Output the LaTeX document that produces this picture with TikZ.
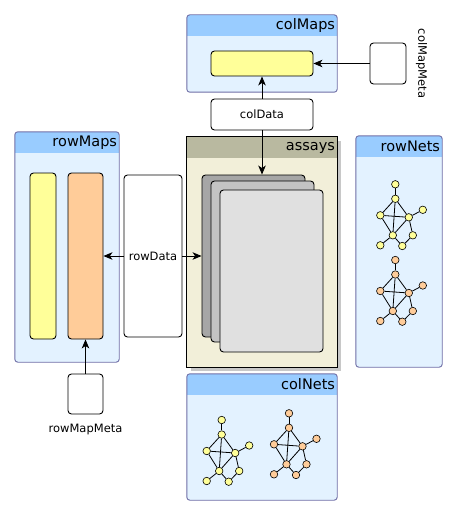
\documentclass[tikz,border=0pt]{standalone}
\usepackage{fontspec}
\setmainfont{DejaVu Sans}
\usepackage{tikz}
\usetikzlibrary{positioning,arrows.meta,fit}

\definecolor{headblue}{HTML}{99CCFF}
\definecolor{bodyblue}{HTML}{E3F2FF}
\definecolor{panelrim}{HTML}{6D6DA6}
\definecolor{headolive}{HTML}{B9B9A0}
\definecolor{bodyolive}{HTML}{F2EFD9}
\definecolor{mapyellow}{HTML}{FFFF99}
\definecolor{maporange}{HTML}{FFCC99}
\definecolor{sheetdark}{HTML}{A6A6A6}
\definecolor{sheetmid}{HTML}{C3C3C3}
\definecolor{sheetlight}{HTML}{E0E0E0}
\definecolor{shadowgray}{HTML}{C8C8C8}

% панель: имя, левый верхний угол, правый нижний угол, заголовок, цвет шапки, цвет фона
\newcommand{\panel}[7][]{%
	\begin{scope}[#1]
		\node[fit={#3 #4}, inner sep=0pt, fill=#7, panelcorners] (#2) {};
		\begin{scope}
			\clip[panelcorners] (#2.north west) rectangle (#2.south east);
			\fill[#6] (#2.north west) rectangle ([yshift=-21.5pt]#2.north east);
		\end{scope}
		\draw[panelline, panelcorners] (#2.north west) rectangle (#2.south east);
		\node[paneltitle, anchor=east] (#2-title) at ([yshift=-10.75pt]#2.north east) {#5};
	\end{scope}}

% маленький граф: префикс имён, положение верхней вершины, цвет вершин
\newcommand{\netgraph}[3]{%
	\begin{scope}[shift={#2}]
		\foreach \n/\px/\py in {a/0/0, b/0/14.5, c/-15/31, d/13.5/33, e/27.5/25.5,
			f/-2.5/51, g/17.5/51, h/-15/61, i/7/61.7}
			\node[netnode, fill=#3] (#1\n) at (\px,\py) {};
		\foreach \u/\v in {a/b, b/c, b/d, b/f, c/d, c/f, d/f, d/e, d/g, g/i, i/f, f/h}
			\draw[netedge] (#1\u) -- (#1\v);
	\end{scope}}

\begin{document}
\begin{tikzpicture}[
		x=1pt, y=-1pt,
		every node/.style={font=\fontsize{11.5}{13}\selectfont},
		>={Stealth[length=9pt,width=7.5pt,inset=2.5pt]},   % стрелки Stealth
		panelcorners/.style={rounded corners=3pt},
		panelline/.style={draw=panelrim, line width=0.9pt},
		paneltitle/.style={font=\fontsize{14.5}{17}\selectfont, inner xsep=2pt, inner ysep=0pt},
		box/.style={draw, line width=0.9pt, rounded corners=3.5pt, inner sep=0pt},
		netnode/.style={circle, draw, line width=0.6pt, minimum size=7.5pt, inner sep=0pt},
		netedge/.style={line width=0.8pt},
		link/.style={->, line width=0.9pt}
		]
		\useasboundingbox (0,0) rectangle (458,516);
		
		% Панель assays с тенью
		\fill[shadowgray] (191,141) rectangle (341,371);
		\panel[panelcorners/.style={sharp corners},
			panelline/.style={draw=black, line width=0.9pt}]
			{assays}{(187,137)}{(337,367)}{assays}{headolive}{bodyolive}
		
		% Остальные панели
		\panel{colMaps}{(187,15)}{(337,92)}{colMaps}{headblue}{bodyblue}
		\panel{rowMaps}{(15,132)}{(119,362)}{rowMaps}{headblue}{bodyblue}
		\panel{rowNets}{(356,136)}{(442,367)}{rowNets}{headblue}{bodyblue}
		\panel{colNets}{(187,374)}{(337,500)}{colNets}{headblue}{bodyblue}
		
		% Столбцы: colMaps, colMapMeta, colData
		\node[box, fill=mapyellow, minimum width=102pt, minimum height=25pt] (colMap) at (262,63.5) {};
		\node[box, minimum width=36pt, minimum height=41pt] (colMapMeta) at (388,63.5) {};
		\node[rotate=-90] (colMapMetaLbl) at (421.5,63.5) {colMapMeta};
		\node[box, minimum width=102pt, minimum height=31pt] (colData) at (262,114.5) {colData};
		
		% Строки: rowMaps, rowData, rowMapMeta
		\node[box, fill=mapyellow, minimum width=26pt, minimum height=166pt] (rowMapA) at (43,256) {};
		\node[box, fill=maporange, minimum width=35pt, minimum height=166pt] (rowMapB) at (85.5,256) {};
		\node[box, minimum width=58pt, minimum height=162pt] (rowData) at (153,256) {rowData};
		\node[box, minimum width=35pt, minimum height=40pt] (rowMapMeta) at (85.5,394) {};
		\node[below=8pt of rowMapMeta, inner sep=1.5pt] (rowMapMetaLbl) {rowMapMeta};
		
		% Стопка матриц assays
		\node[box, fill=sheetdark, minimum width=103pt, minimum height=162pt] (sheetA) at (253.5,256) {};
		\node[box, fill=sheetmid, minimum width=103pt, minimum height=161pt] (sheetB) at (262.5,261.5) {};
		\node[box, fill=sheetlight, minimum width=103pt, minimum height=162pt] (sheetC) at (271.5,271) {};
		
		% Графы в rowNets и colNets
		\netgraph{rny}{(395.3,184.3)}{mapyellow}
		\netgraph{rno}{(395.3,260)}{maporange}
		\netgraph{cny}{(221.7,420)}{mapyellow}
		\netgraph{cno}{(289,413.3)}{maporange}
		
		% Рисуем стрелки
		\draw[link] (colMapMeta) -- (colMap);
		\draw[link] (colData) -- (colMap);
		\draw[link] (colData.south) -- (colData.south |- sheetA.north);
		\draw[link] (rowData) -- (rowMapB);
		\draw[link] (rowData) -- (sheetA);
		\draw[link] (rowMapMeta) -- (rowMapB);
	\end{tikzpicture}
\end{document}
